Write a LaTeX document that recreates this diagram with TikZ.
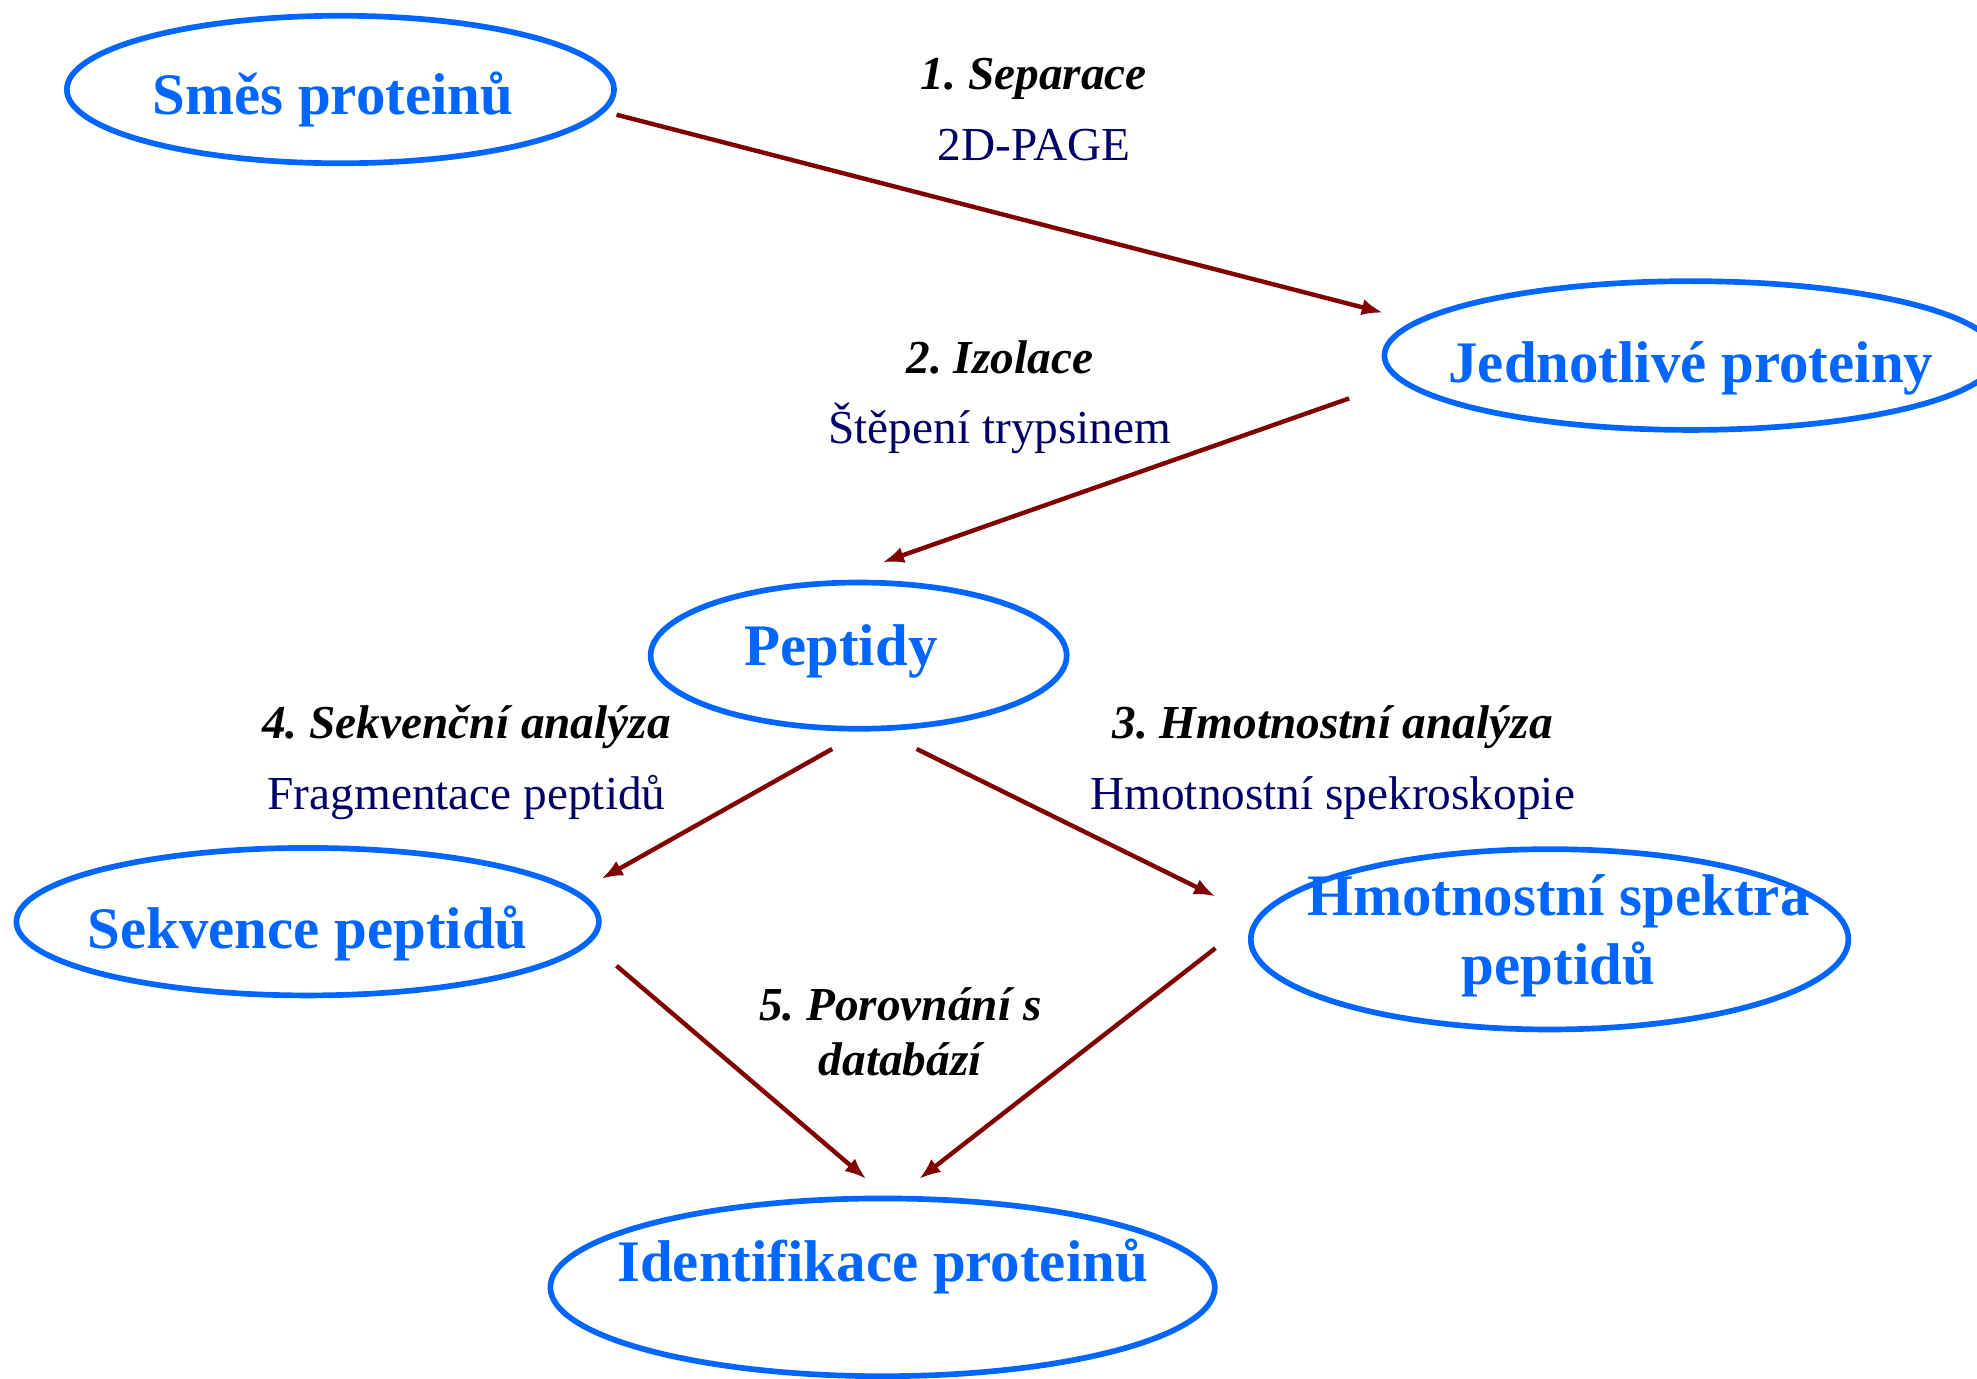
\documentclass[tikz,border=0pt]{standalone}
\usepackage{fontspec}
\setmainfont{Liberation Serif}
\usetikzlibrary{arrows.meta, shapes.geometric}
\frenchspacing

\definecolor{ovalblue}{RGB}{0,102,255}
\definecolor{stepnavy}{RGB}{0,0,102}
\definecolor{arrowred}{RGB}{128,0,0}

\begin{document}
\begin{tikzpicture}[x=1pt, y=1pt, >={Latex[length=17pt,width=13pt]},
  oval/.style={ellipse, draw=ovalblue, line width=4.5pt, inner sep=0pt},
  title/.style={anchor=base, text=ovalblue, align=center,
    font=\fontsize{46.7}{55}\selectfont\bfseries},
  steptext/.style={anchor=base, align=center, font=\fontsize{37.5}{56}\selectfont},
  flow/.style={->, draw=arrowred, fill=arrowred, line width=3.5pt}]
  \useasboundingbox (0,0) rectangle (1568,1093);

  % --- ovals ---
  \node[oval, minimum width=434, minimum height=117] (smes) at (270,1022) {};
  \node[oval, minimum width=486, minimum height=118] (jedn) at (1341,811) {};
  \node[oval, minimum width=330, minimum height=116] (pept) at (681,573) {};
  \node[oval, minimum width=462, minimum height=117] (sekv) at (244,362) {};
  \node[oval, minimum width=474, minimum height=143] (spek) at (1229,348) {};
  \node[oval, minimum width=527, minimum height=141] (iden) at (700,72) {};

  % --- oval titles ---
  \node[title] (smes-t) at (264,1002) {Směs proteinů};
  \node[title] (jedn-t) at (1341,790) {Jednotlivé proteiny};
  \node[title] (pept-t) at (667,565) {Peptidy};
  \node[title] (sekv-t) at (244,341) {Sekvence peptidů};
  \node[title] (spek-t) at (1236,312) {Hmotnostní spektra\\peptidů};
  \node[title] (iden-t) at (700,77) {Identifikace proteinů};

  % --- step labels (base = last line) ---
  \node[steptext] (separ) at (820,966)
    {\textbf{\textit{1. Separace}}\\\color{stepnavy}2D-PAGE};
  \node[steptext] (izol) at (793,741)
    {\textbf{\textit{2. Izolace}}\\\color{stepnavy}Štěpení trypsinem};
  \node[steptext] (sekan) at (370,451)
    {\textbf{\textit{4. Sekvenční analýza}}\\\color{stepnavy}Fragmentace peptidů};
  \node[steptext] (hman) at (1057,451)
    {\textbf{\textit{3. Hmotnostní analýza}}\\\color{stepnavy}Hmotnostní spekroskopie};
  \node[steptext, font=\fontsize{37.5}{44}\selectfont\bfseries\itshape] (porov)
    at (714,240) {5. Porovnání s\\databází};

  % --- arrows ---
  \draw[flow] ([shift={(219,-20)}]smes.center) -- ([shift={(-244,34)}]jedn.center);
  \draw[flow] ([shift={(-271,-34)}]jedn.center) -- ([shift={(19,74)}]pept.center);
  \draw[flow] ([shift={(-21,-74)}]pept.center) -- ([shift={(233,34)}]sekv.center);
  \draw[flow] ([shift={(46,-74)}]pept.center) -- ([shift={(-265,34)}]spek.center);
  \draw[flow] ([shift={(245,-35)}]sekv.center) -- ([shift={(-13,86)}]iden.center);
  \draw[flow] ([shift={(-265,-7)}]spek.center) -- ([shift={(29,86)}]iden.center);
\end{tikzpicture}
\end{document}
